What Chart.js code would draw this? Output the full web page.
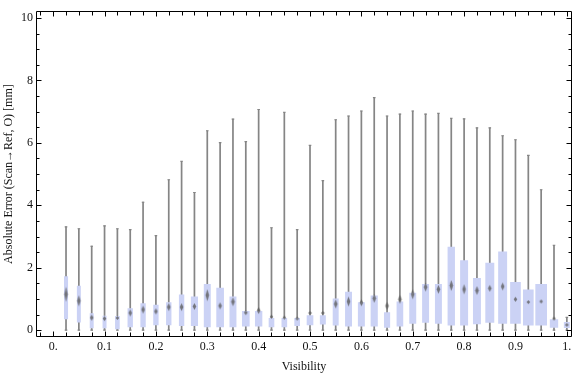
<!DOCTYPE html>
<html><head><meta charset="utf-8">
<script src="https://cdn.jsdelivr.net/npm/chart.js@4"></script>
<style>html,body{margin:0;padding:0;background:#fff}canvas{display:block}</style>
</head><body>
<canvas id="c" width="576" height="377"></canvas>
<script>
// ---- data ----
const visibility = [0.025,0.05,0.075,0.1,0.125,0.15,0.175,0.2,0.225,0.25,0.275,0.3,0.325,0.35,0.375,0.4,0.425,0.45,0.475,0.5,
                    0.525,0.55,0.575,0.6,0.625,0.65,0.675,0.7,0.725,0.75,0.775,0.8,0.825,0.85,0.875,0.9,0.925,0.95,0.975,1.0];
const whiskerMin = [0,0,0,0,0,0,0,0,0,0,0,0,0,0,0,0,0,0,0,0,0,0,0,0,0,0,0,0,0,0,0,0,0,0,0,0,0,0,0,0];
const whiskerMax = [3.31,3.25,2.69,3.34,3.25,3.22,4.10,3.03,4.82,5.41,4.41,6.39,6.01,6.76,6.04,7.07,3.28,6.98,3.22,5.92,
                    4.79,6.74,6.86,7.02,7.45,6.86,6.92,7.02,6.92,6.95,6.79,6.77,6.48,6.48,6.23,6.10,5.60,4.50,2.72,0.41];
const q1 = [0.36,0.26,0.07,0.07,0.04,0.10,0.10,0.17,0.17,0.14,0.14,0.10,0.10,0.10,0.13,0.13,0.10,0.10,0.14,0.17,
            0.19,0.16,0.13,0.13,0.13,0.09,0.13,0.22,0.25,0.22,0.16,0.16,0.20,0.25,0.22,0.22,0.16,0.16,0.09,0.08];
const q3 = [1.72,1.41,0.53,0.45,0.44,0.69,0.85,0.80,0.88,1.13,1.07,1.47,1.35,1.07,0.60,0.60,0.38,0.38,0.38,0.47,
            0.47,1.00,1.22,0.88,1.10,0.56,0.91,1.19,1.47,1.47,2.66,2.23,1.66,2.15,2.51,1.53,1.29,1.47,0.34,0.25];
const mean = [1.15,0.94,0.40,0.37,0.39,0.55,0.66,0.60,0.74,0.74,0.76,1.12,0.78,0.91,0.56,0.63,0.43,0.40,0.37,0.55,
              0.55,0.84,0.92,0.88,1.02,0.78,0.99,1.15,1.38,1.31,1.43,1.31,1.27,1.34,1.40,0.99,0.90,0.92,0.37,0.17];
const meanCI = [0.235,0.17,0.094,0.078,0.07,0.11,0.125,0.094,0.125,0.125,0.11,0.19,0.11,0.14,0.078,0.11,0.055,0.063,0.055,0.07,
                0.07,0.14,0.16,0.11,0.14,0.125,0.14,0.16,0.14,0.14,0.17,0.16,0.14,0.11,0.125,0.078,0.07,0.063,0.047,0.047];
const xTickLabels = ['0.','0.1','0.2','0.3','0.4','0.5','0.6','0.7','0.8','0.9','1.'];
const yTickLabels = ['0','2','4','6','8','10'];

// ---- style ----
const boxWidthPx = [3.4,3.3,3.3,3.3,4,4.7,4.7,4.7,4.7,4.7,6.5,6.3,7,6.3,7,6.7,5,5,5,6,
                    5.3,5.3,6.3,6.3,6.5,5.5,6,6.3,6.3,6.3,6.7,7.3,7.3,8.3,8.3,10,10,11,7.7,5.3];
const BOX_COLOR = 'rgb(203,210,245)';
const WHISKER_COLOR = '#858585';

const diamondCache = {};
function makeDiamond(h) {
  h = Math.max(4, Math.round(h));
  if (diamondCache[h]) return diamondCache[h];
  const c = document.createElement('canvas');
  c.width = 9; c.height = h + 6;
  const g = c.getContext('2d');
  g.filter = 'blur(0.55px)';
  g.fillStyle = 'rgba(92,92,92,0.8)';
  g.beginPath();
  g.moveTo(4.5, 3); g.lineTo(6.3, 3 + h / 2); g.lineTo(4.5, 3 + h); g.lineTo(2.7, 3 + h / 2);
  g.closePath(); g.fill();
  diamondCache[h] = c;
  return c;
}

const datasets = [];
// mean diamonds (top)
datasets.push({
  type: 'scatter', order: 0,
  data: visibility.map((v, i) => ({x: v, y: mean[i]})),
  pointRadius: 3,
  pointStyle: (ctx) => {
    if (ctx.type !== 'data') return 'circle';
    const i = ctx.dataIndex, sy = ctx.chart.scales.y;
    const h = Math.abs(sy.getPixelForValue(mean[i] - meanCI[i]) - sy.getPixelForValue(mean[i] + meanCI[i]));
    return makeDiamond(h);
  }
});
// boxes
visibility.forEach((v, i) => {
  datasets.push({
    type: 'bar', order: 1, grouped: false,
    data: [{x: v, y: [q1[i], q3[i]]}],
    backgroundColor: BOX_COLOR, borderWidth: 0,
    barPercentage: 1, categoryPercentage: 1, maxBarThickness: boxWidthPx[i]
  });
});
// whisker caps
datasets.push({
  type: 'scatter', order: 2,
  data: visibility.flatMap((v, i) => [{x: v, y: whiskerMax[i]}, {x: v, y: whiskerMin[i]}]),
  pointStyle: 'line', pointRadius: 1.3, borderColor: WHISKER_COLOR, borderWidth: 1.1
});
// whiskers
datasets.push({
  type: 'bar', order: 3, grouped: false,
  data: visibility.map((v, i) => ({x: v, y: [whiskerMin[i], whiskerMax[i]]})),
  backgroundColor: WHISKER_COLOR, borderWidth: 0,
  barPercentage: 1, categoryPercentage: 1, maxBarThickness: 1.05
});

const near = (v, step) => Math.abs(v / step - Math.round(v / step)) < 1e-6;

const framePlugin = {
  id: 'frame',
  afterDraw(chart) {
    const {ctx, chartArea: {left, right, top, bottom}, scales: {x, y}} = chart;
    ctx.save();
    ctx.strokeStyle = '#000'; ctx.lineWidth = 1;
    const L = Math.round(left) - 0.5, R = Math.round(right) + 0.5, T = Math.round(top) + 0.5, B = Math.round(bottom) - 0.5;
    ctx.beginPath();
    ctx.moveTo(L, T); ctx.lineTo(R, T); ctx.lineTo(R, B); ctx.lineTo(L, B); ctx.closePath();
    x.ticks.forEach(t => {
      const px = Math.round(x.getPixelForValue(t.value)) + 0.5;
      const len = near(t.value, 0.1) ? 5 : 4;
      ctx.moveTo(px, B); ctx.lineTo(px, B - len);
      ctx.moveTo(px, T); ctx.lineTo(px, T + len);
    });
    y.ticks.forEach(t => {
      const py = Math.round(y.getPixelForValue(t.value)) + 0.5;
      const len = near(t.value, 2) ? 5 : 3;
      ctx.moveTo(L, py); ctx.lineTo(L + len, py);
      ctx.moveTo(R, py); ctx.lineTo(R - len, py);
    });
    ctx.stroke();
    ctx.restore();
  }
};

Chart.defaults.font.family = '"Liberation Serif", "Times New Roman", serif';
Chart.defaults.font.size = 12;
Chart.defaults.color = '#111';

new Chart(document.getElementById('c'), {
  type: 'bar',
  data: {datasets},
  options: {
    responsive: false, animation: false, devicePixelRatio: 1,
    layout: {padding: {top: 4, right: 1, left: 0, bottom: 0}},
    plugins: {legend: {display: false}, tooltip: {enabled: false}},
    scales: {
      x: {
        type: 'linear', min: -0.0315, max: 1.0079, offset: false,
        grid: {display: false, drawTicks: false},
        border: {display: false},
        ticks: {
          stepSize: 0.025, includeBounds: false, autoSkip: false, maxRotation: 0, padding: 3,
          callback: v => near(v, 0.1) ? xTickLabels[Math.round(v * 10)] : ''
        },
        title: {display: true, text: 'Visibility', padding: {top: 0, bottom: 3}},
        afterFit: s => { s.height = 40; }
      },
      y: {
        type: 'linear', min: -0.219, max: 10.219,
        grid: {display: false, drawTicks: false},
        border: {display: false},
        ticks: {
          stepSize: 0.5, includeBounds: false, autoSkip: false, padding: 4,
          callback: v => near(v, 2) ? yTickLabels[Math.round(v / 2)] : ''
        },
        title: {display: true, text: 'Absolute Error (Scan\u2192Ref, O) [mm]', padding: {top: 2, bottom: 0}},
        afterFit: s => { s.width = 37; }
      }
    }
  },
  plugins: [framePlugin]
});
</script>
</body></html>
